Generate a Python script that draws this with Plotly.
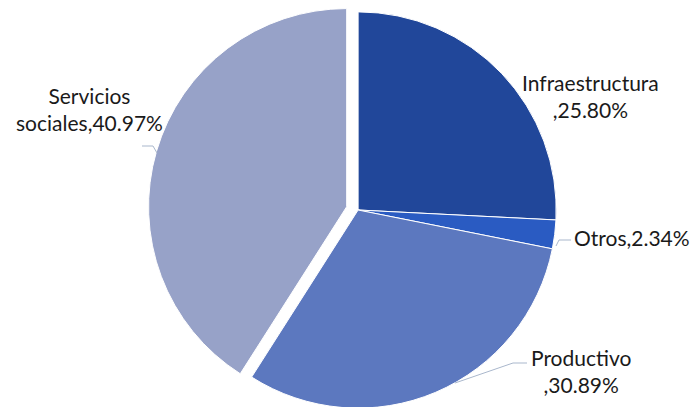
import plotly.graph_objects as go

categories = ["Infraestructura", "Otros", "Productivo", "Servicios sociales"]
display_names = ["Infraestructura<br>", "Otros", "Productivo<br>", "Servicios<br>sociales"]
values = [25.80, 2.34, 30.89, 40.97]
colors = ["#21479a", "#2a5bc2", "#5c78bf", "#97a2c8"]
pulls = [0, 0, 0, 0.06]

texts = [f"{n},{v:.2f}%" for n, v in zip(display_names, values)]

W, H = 694, 420

def px(x, y):
    return x / W, 1 - y / H

fig = go.Figure(go.Pie(
    labels=categories,
    values=values,
    textinfo="none",
    sort=False,
    direction="clockwise",
    rotation=0,
    pull=pulls,
    marker=dict(colors=colors, line=dict(color="white", width=1)),
    domain=dict(x=[0.032, 1.0], y=[0, 1]),
    showlegend=False,
    hoverinfo="label+percent",
))

# label placement (layout only)
label_pos = [(590, 96, "center", "center"), (692, 237, "right", "left"),
             (581, 371, "center", "center"), (89, 109, "center", "center")]
for t, (x, y, xa, al) in zip(texts, label_pos):
    ax, ay = px(x, y)
    fig.add_annotation(x=ax, y=ay, xref="paper", yref="paper", text=t,
                       showarrow=False, xanchor=xa, yanchor="middle", align=al,
                       font=dict(family="Lato", size=21, color="#1a1a1a"))

leader_lines = [
    [(556, 246), (559, 240), (571, 240)],
    [(455, 383), (513, 363), (527, 363)],
    [(157, 153), (153, 146), (142, 146)],
]
for pts in leader_lines:
    path = "M " + " L ".join(f"{px(x, y)[0]},{px(x, y)[1]}" for x, y in pts)
    fig.add_shape(type="path", path=path, xref="paper", yref="paper",
                  line=dict(color="#a9b7cc", width=1))

fig.update_layout(
    width=W, height=H,
    margin=dict(l=0, r=0, t=0, b=0),
    paper_bgcolor="white",
    plot_bgcolor="white",
)

fig.write_html(
    "out.html",
    config={"displayModeBar": False},
    post_script="document.body.style.margin='0';"
                "document.body.style.overflow='hidden';"
                "document.documentElement.style.overflow='hidden';",
)
